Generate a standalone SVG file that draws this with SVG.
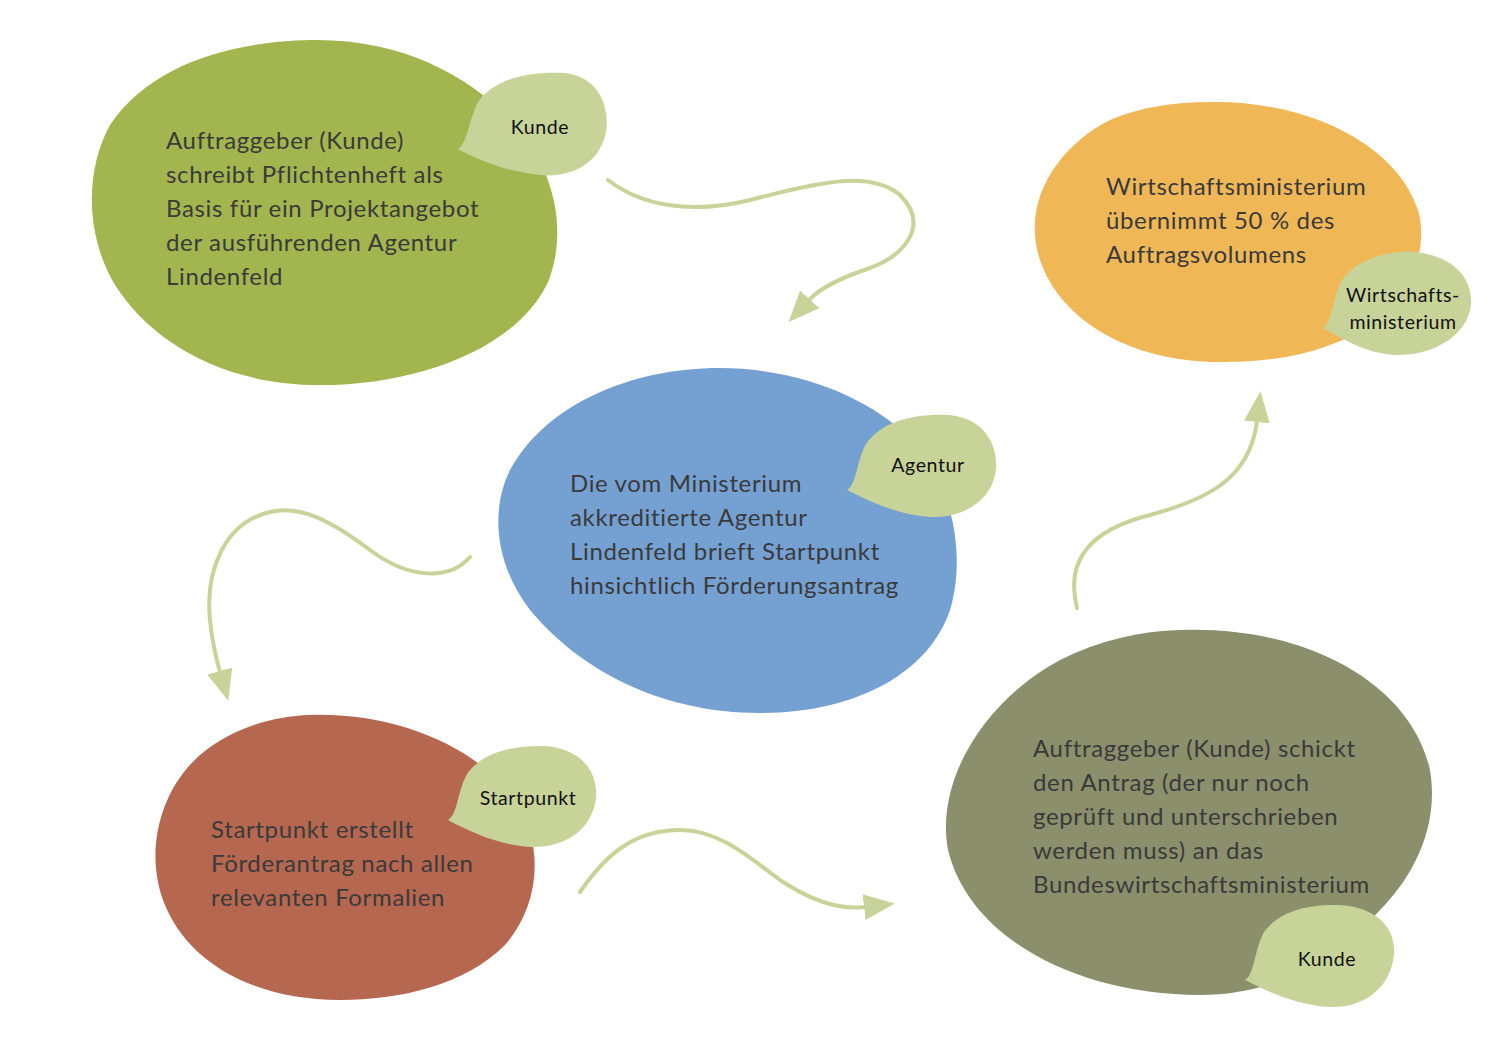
<svg xmlns="http://www.w3.org/2000/svg" width="1500" height="1060" viewBox="0 0 1500 1060">
<style>
.main{font-family:Lato,"Open Sans","Liberation Sans",sans-serif;font-size:24px;letter-spacing:0.65px;fill:#3a3a3a}
.tag{font-family:Lato,"Open Sans","Liberation Sans",sans-serif;font-size:19.5px;letter-spacing:0.6px;fill:#111;text-anchor:middle}
.leaf{fill:#c7d398}
.conn{fill:none;stroke:#c7d398;stroke-width:4;stroke-linecap:round}
</style>
<defs>
<marker id="ah" viewBox="0 -13 31 26" refX="1" refY="0" markerWidth="31" markerHeight="26" markerUnits="userSpaceOnUse" orient="auto">
<path d="M0,-13 L31,0 L0,13 Z" fill="#c7d398"/>
</marker>
</defs>
<rect width="1500" height="1060" fill="#fff"/>
<g id="connectors">
<path class="conn" marker-end="url(#ah)" d="M608,180 C640,205 690,215 750,200 C820,182 870,170 900,195 C930,225 905,255 870,268 C840,278 820,288 809,300"/>
<path class="conn" marker-end="url(#ah)" d="M470,557 C450,580 410,580 370,550 C330,520 300,505 270,512 C225,522 205,570 210,620 C212,640 216,658 220,672"/>
<path class="conn" marker-end="url(#ah)" d="M580,892 C610,848 640,830 680,830 C720,830 750,858 780,880 C810,900 840,910 865,907"/>
<path class="conn" marker-end="url(#ah)" d="M1077,608 C1065,560 1090,530 1150,515 C1205,500 1250,480 1257,421"/>
</g>
<g id="node-kunde-1">
<path fill="#a2b54e" d="M310,40 C400,38 470,75 515,125 C555,170 568,232 548,282 C518,347 420,385 320,385 C220,385 150,340 115,285 C85,235 85,170 110,125 C150,65 230,42 310,40 Z"/>
<text class="main"><tspan x="166" y="149">Auftraggeber (Kunde)</tspan><tspan x="166" y="183">schreibt Pflichtenheft als</tspan><tspan x="166" y="217">Basis für ein Projektangebot</tspan><tspan x="166" y="251">der ausführenden Agentur</tspan><tspan x="166" y="285">Lindenfeld</tspan></text>
<path class="leaf" d="M458,149 C468,142 468,122 478,102 C495,78 530,71 565,73 C598,77 610,105 606,132 C600,163 572,178 540,175 C510,172 482,162 458,149 Z"/>
<text class="tag" x="540" y="134">Kunde</text>
</g>
<g id="node-agentur">
<path fill="#75a0d2" d="M720,368 C800,368 880,400 920,450 C955,495 965,560 950,610 C930,670 860,713 760,713 C660,713 580,670 530,610 C495,565 490,510 510,470 C545,405 630,368 720,368 Z"/>
<text class="main"><tspan x="570" y="492">Die vom Ministerium</tspan><tspan x="570" y="526">akkreditierte Agentur</tspan><tspan x="570" y="560">Lindenfeld brieft Startpunkt</tspan><tspan x="570" y="594">hinsichtlich Förderungsantrag</tspan></text>
<path class="leaf" d="M847,490 C857,484 856,462 866,444 C882,420 918,413 950,415 C985,419 998,445 996,470 C992,500 965,518 930,517 C900,515 872,503 847,490 Z"/>
<text class="tag" x="928" y="472">Agentur</text>
</g>
<g id="node-ministerium">
<path fill="#f0b757" d="M1210,102 C1300,100 1395,140 1418,210 C1432,260 1400,320 1330,345 C1290,360 1250,362 1220,362 C1130,362 1060,320 1040,260 C1020,200 1060,145 1110,120 C1140,107 1175,102 1210,102 Z"/>
<text class="main"><tspan x="1106" y="195">Wirtschaftsministerium</tspan><tspan x="1106" y="229">übernimmt 50 % des</tspan><tspan x="1106" y="263">Auftragsvolumens</tspan></text>
<path class="leaf" d="M1323,328 C1333,322 1332,298 1342,280 C1358,258 1390,250 1415,252 C1455,256 1473,280 1471,305 C1467,338 1430,356 1395,355 C1365,353 1345,340 1323,328 Z"/>
<text class="tag"><tspan x="1403" y="302">Wirtschafts-</tspan><tspan x="1403" y="329">ministerium</tspan></text>
</g>
<g id="node-startpunkt">
<path fill="#b5674f" d="M310,715 C400,712 480,750 515,800 C545,845 540,905 505,945 C465,985 400,1000 340,1000 C250,1000 185,960 163,900 C145,850 160,790 200,755 C230,730 270,716 310,715 Z"/>
<text class="main"><tspan x="211" y="838">Startpunkt erstellt</tspan><tspan x="211" y="872">Förderantrag nach allen</tspan><tspan x="211" y="906">relevanten Formalien</tspan></text>
<path class="leaf" d="M448,820 C458,814 457,792 467,774 C482,752 515,745 545,746 C582,749 598,772 596,798 C592,830 565,848 530,847 C500,845 472,833 448,820 Z"/>
<text class="tag" x="528" y="805">Startpunkt</text>
</g>
<g id="node-kunde-2">
<path fill="#8b8f6b" d="M1180,630 C1300,625 1410,680 1430,770 C1440,830 1410,880 1380,910 C1330,965 1270,995 1200,995 C1080,995 970,940 948,850 C935,780 985,700 1060,660 C1100,640 1140,631 1180,630 Z"/>
<text class="main"><tspan x="1033" y="757">Auftraggeber (Kunde) schickt</tspan><tspan x="1033" y="791">den Antrag (der nur noch</tspan><tspan x="1033" y="825">geprüft und unterschrieben</tspan><tspan x="1033" y="859">werden muss) an das</tspan><tspan x="1033" y="893">Bundeswirtschaftsministerium</tspan></text>
<path class="leaf" d="M1245,980 C1255,974 1254,950 1264,932 C1280,910 1310,904 1340,905 C1380,908 1396,930 1394,955 C1390,990 1362,1008 1330,1007 C1298,1005 1270,993 1245,980 Z"/>
<text class="tag" x="1327" y="966">Kunde</text>
</g>
</svg>
